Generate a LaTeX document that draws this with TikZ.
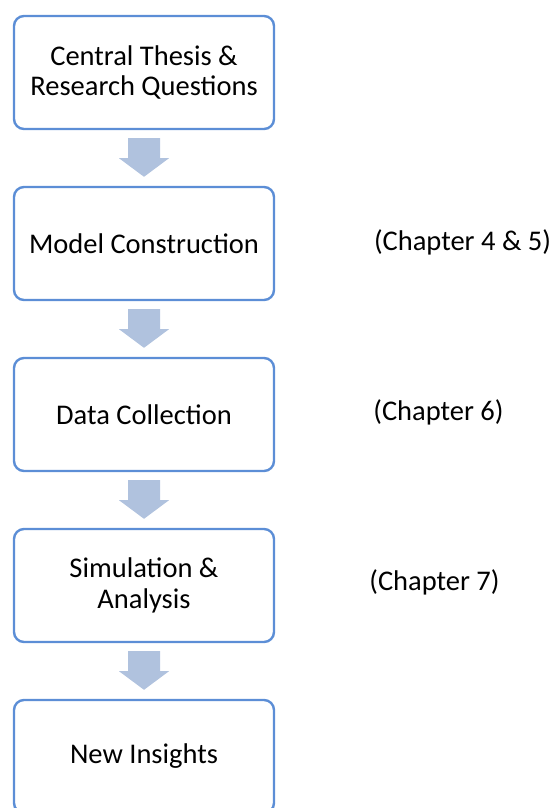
\documentclass[tikz,border=0pt]{standalone}
\usepackage{fontspec}
\setmainfont{Carlito}
\usetikzlibrary{calc}
\definecolor{boxline}{RGB}{92,142,214}
\definecolor{arrowfill}{RGB}{176,194,222}
\tikzset{
  stage/.style={draw=boxline, line width=2.4pt, rounded corners=10pt, fill=white,
    minimum width=260pt, minimum height=113pt, align=center, inner sep=0pt,
    font=\fontsize{28.5}{30.5}\selectfont},
  chapter/.style={font=\fontsize{28.5}{30.5}\selectfont, inner sep=0pt},
}
% block arrow from the bottom of one stage to the top of the next
\newcommand{\blockarrow}[2]{%
  \fill[arrowfill] ($(#1.south)+(-16,8)$) -- ($(#1.south)+(16,8)$)
    -- ($(#1.south)+(16,28)$) -- ($(#1.south)+(25,28)$)
    -- ($(#2.north)+(0,-9)$)
    -- ($(#1.south)+(-25,28)$) -- ($(#1.south)+(-16,28)$) -- cycle;}
\begin{document}
\begin{tikzpicture}[x=1pt, y=-1pt]
  \useasboundingbox (0,0) rectangle (555,808);
  \clip (0,0) rectangle (555,808);
  \node[stage] (s1) at (144,72.5) {Central Thesis \&\\Research Questions};
  \node[stage] (s2) at (144,243.5) {Model Construction};
  \node[stage] (s3) at (144,414.5) {Data Collection};
  \node[stage] (s4) at (144,585.5) {Simulation \&\\Analysis};
  \node[stage] (s5) at (144,756.5) {New Insights};
  \blockarrow{s1}{s2}
  \blockarrow{s2}{s3}
  \blockarrow{s3}{s4}
  \blockarrow{s4}{s5}
  \node[chapter] (c2) at (462.5,242) {(Chapter 4 \& 5)};
  \node[chapter] (c3) at (438.5,412) {(Chapter 6)};
  \node[chapter] (c4) at (434.5,582) {(Chapter 7)};
\end{tikzpicture}
\end{document}
